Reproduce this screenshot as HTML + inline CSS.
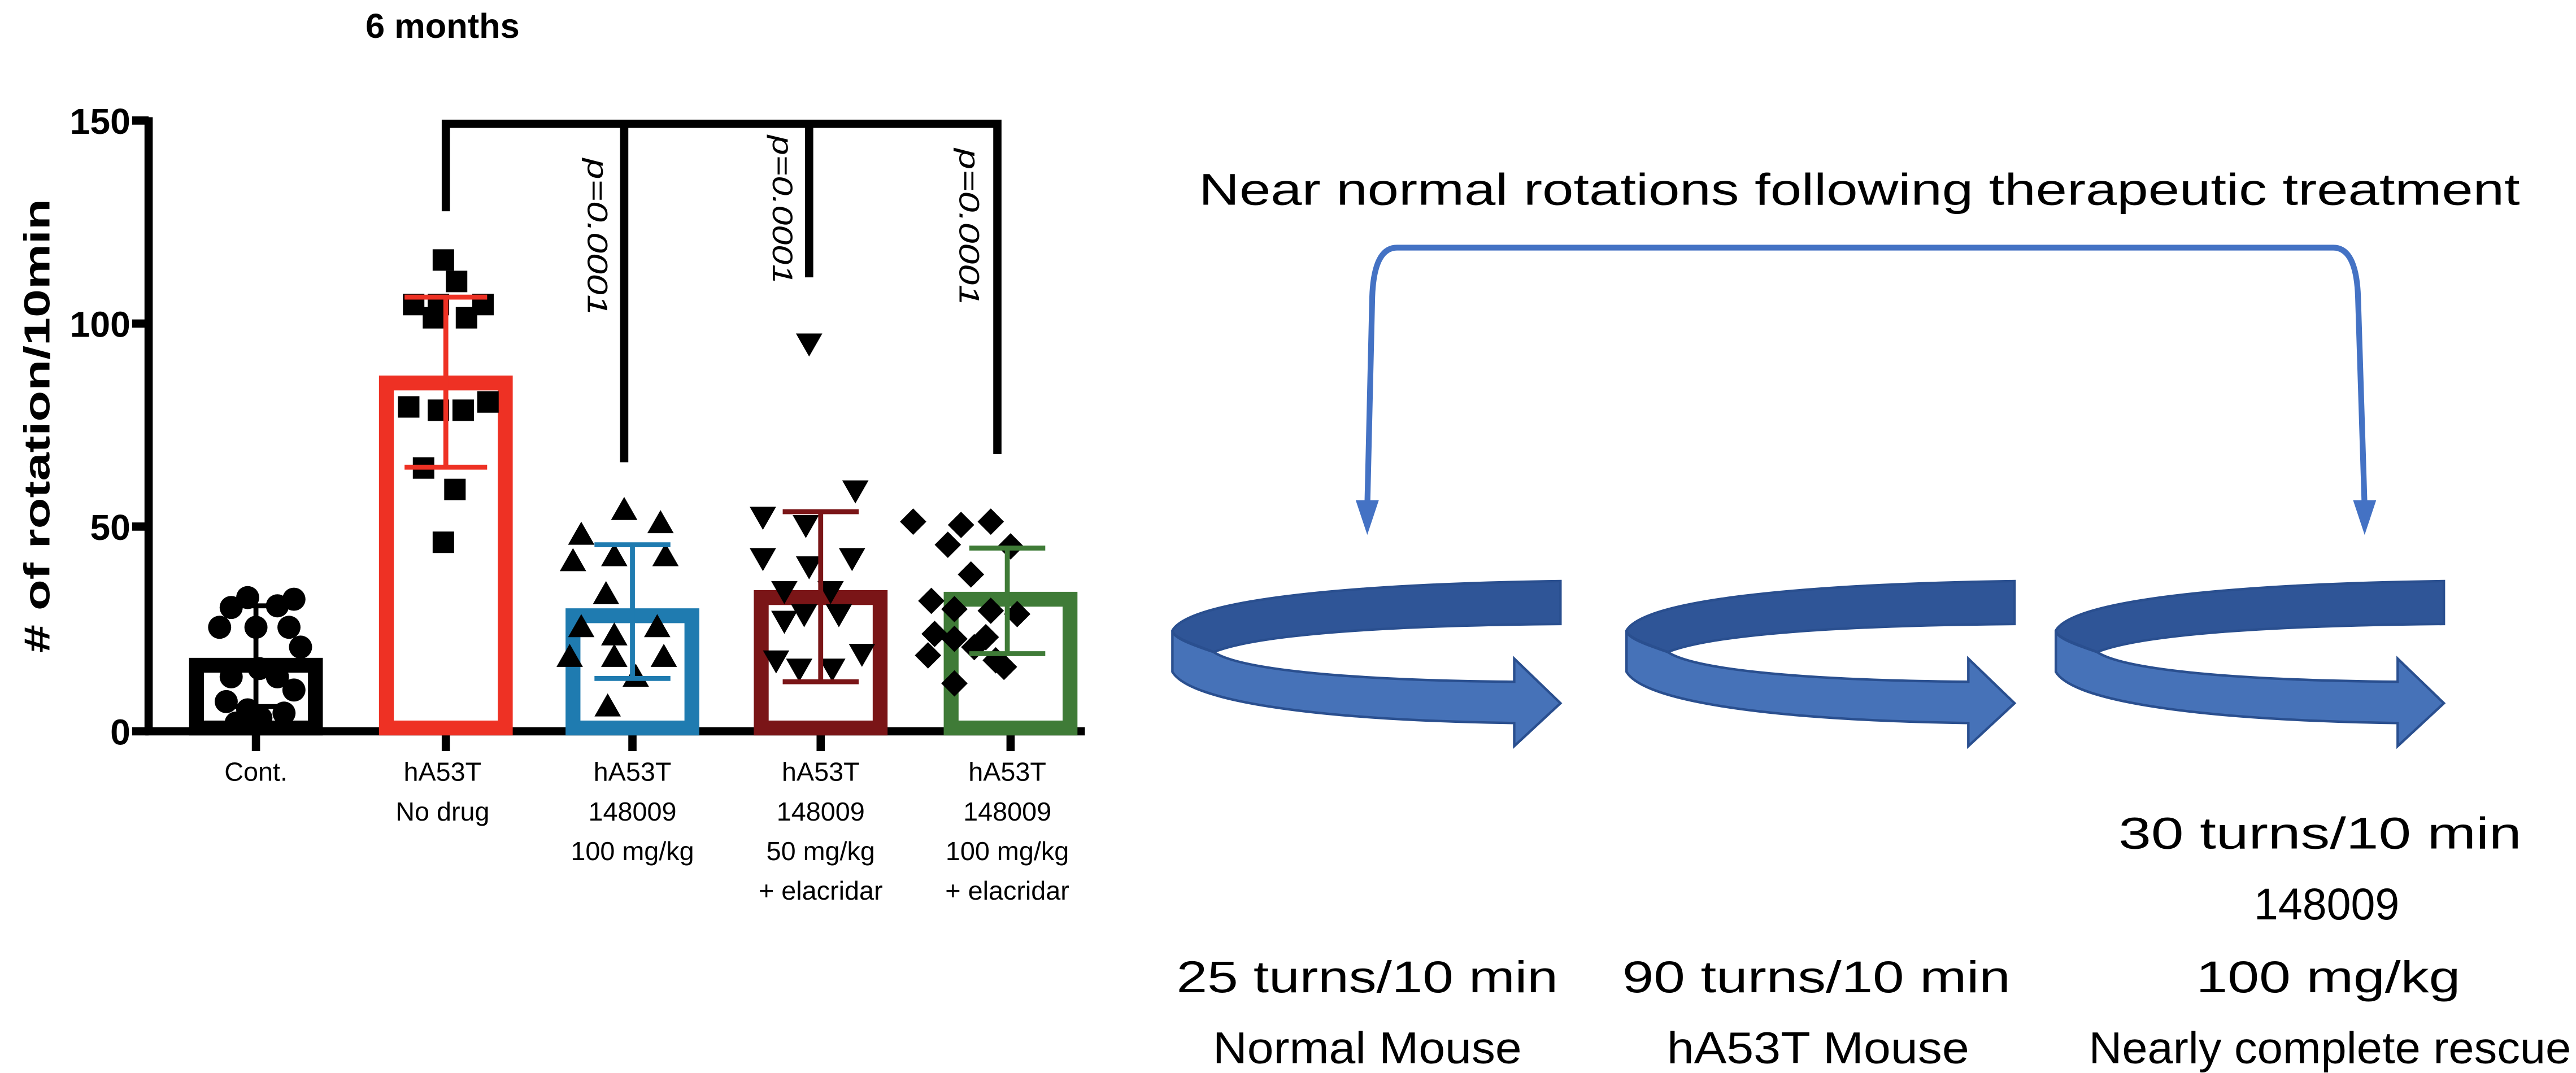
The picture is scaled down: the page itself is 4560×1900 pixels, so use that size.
<!DOCTYPE html>
<html><head><meta charset="utf-8"><style>
html,body{margin:0;padding:0;background:#fff;}
svg{display:block;}
text{font-family:"Liberation Sans",sans-serif;}
</style></head><body>
<svg width="4560" height="1900" viewBox="0 0 1560 650" xmlns="http://www.w3.org/2000/svg">
<rect width="1560" height="650" fill="#fff"/>
<!-- title -->
<text x="268" y="23" font-size="21" font-weight="bold" text-anchor="middle">6 months</text>
<!-- y label -->
<text transform="translate(30,258) rotate(-90)" font-size="22" font-weight="bold" text-anchor="middle" textLength="275" lengthAdjust="spacingAndGlyphs"># of rotation/10min</text>
<!-- tick labels -->
<g font-size="22" font-weight="bold" text-anchor="end">
<text x="79" y="81">150</text><text x="79" y="204">100</text><text x="79" y="327">50</text><text x="79" y="451">0</text>
</g>
<g stroke="#000" stroke-width="5">
<line x1="90" y1="71" x2="90" y2="445"/>
<line x1="80" y1="73" x2="90" y2="73"/><line x1="80" y1="196" x2="90" y2="196"/><line x1="80" y1="319" x2="90" y2="319"/><line x1="80" y1="443" x2="90" y2="443"/>
<line x1="88" y1="443" x2="657" y2="443"/>
<line x1="155" y1="443" x2="155" y2="455"/><line x1="270" y1="443" x2="270" y2="455"/><line x1="383" y1="443" x2="383" y2="455"/><line x1="497" y1="443" x2="497" y2="455"/><line x1="612" y1="443" x2="612" y2="455"/>
</g>
<!-- bars -->
<g fill="#fff" stroke-width="9">
<rect x="119" y="403" width="72" height="38" stroke="#000"/>
<rect x="234" y="232" width="72" height="209" stroke="#EE3124"/>
<rect x="347" y="373" width="72" height="68" stroke="#1F7BB0"/>
<rect x="461" y="362" width="72" height="79" stroke="#7A1517"/>
<rect x="576" y="363" width="72" height="78" stroke="#3F7B37"/>
</g>
<!-- cont circles -->
<g fill="#000">
<circle cx="140" cy="368" r="7"/><circle cx="150" cy="362" r="7"/><circle cx="168" cy="367" r="7"/><circle cx="178" cy="363" r="7"/><circle cx="133" cy="380" r="7"/><circle cx="155" cy="380" r="7"/><circle cx="175" cy="380" r="7"/><circle cx="182" cy="392" r="7"/><circle cx="140" cy="410" r="7"/><circle cx="157" cy="405" r="7"/><circle cx="168" cy="410" r="7"/><circle cx="178" cy="418" r="7"/><circle cx="137" cy="425" r="7"/><circle cx="150" cy="430" r="7"/><circle cx="158" cy="435" r="7"/><circle cx="143" cy="438" r="7"/><circle cx="172" cy="432" r="7"/>
</g>
<!-- red squares -->
<g fill="#000">
<rect x="262" y="151" width="13" height="13"/><rect x="270" y="164" width="13" height="13"/><rect x="244" y="178" width="13" height="13"/><rect x="259" y="178" width="13" height="13"/><rect x="286" y="178" width="13" height="13"/><rect x="256" y="186" width="13" height="13"/><rect x="276" y="186" width="13" height="13"/><rect x="241" y="240" width="13" height="13"/><rect x="259" y="242" width="13" height="13"/><rect x="274" y="242" width="13" height="13"/><rect x="289" y="237" width="13" height="13"/><rect x="250" y="277" width="13" height="13"/><rect x="269" y="290" width="13" height="13"/><rect x="262" y="322" width="13" height="13"/>
</g>
<!-- blue triangles -->
<g fill="#000">
<polygon points="378,301 370,315 386,315"/><polygon points="400,309 392,323 408,323"/><polygon points="352,316 344,330 360,330"/><polygon points="347,332 339,346 355,346"/><polygon points="372,329 364,343 380,343"/><polygon points="403,329 395,343 411,343"/><polygon points="367,352 359,366 375,366"/><polygon points="352,372 344,386 360,386"/><polygon points="372,377 364,391 380,391"/><polygon points="398,372 390,386 406,386"/><polygon points="345,390 337,404 353,404"/><polygon points="372,390 364,404 380,404"/><polygon points="402,390 394,404 410,404"/><polygon points="385,402 377,416 393,416"/><polygon points="368,420 360,434 376,434"/>
</g>
<!-- maroon down triangles -->
<g fill="#000">
<polygon points="482,202 498,202 490,216"/><polygon points="510,291 526,291 518,305"/><polygon points="454,307 470,307 462,321"/><polygon points="480,312 496,312 488,326"/><polygon points="454,332 470,332 462,346"/><polygon points="482,337 498,337 490,351"/><polygon points="508,332 524,332 516,346"/><polygon points="467,352 483,352 475,366"/><polygon points="495,352 511,352 503,366"/><polygon points="479,366 495,366 487,380"/><polygon points="500,366 516,366 508,380"/><polygon points="462,394 478,394 470,408"/><polygon points="476,399 492,399 484,413"/><polygon points="496,399 512,399 504,413"/><polygon points="514,390 530,390 522,404"/><polygon points="467,370 483,370 475,384"/>
</g>
<!-- green diamonds -->
<g fill="#000">
<polygon points="553,308 561,316 553,324 545,316"/><polygon points="582,310 590,318 582,326 574,318"/><polygon points="600,308 608,316 600,324 592,316"/><polygon points="574,322 582,330 574,338 566,330"/><polygon points="612,323 620,331 612,339 604,331"/><polygon points="588,340 596,348 588,356 580,348"/><polygon points="564,356 572,364 564,372 556,364"/><polygon points="578,361 586,369 578,377 570,369"/><polygon points="600,362 608,370 600,378 592,370"/><polygon points="616,364 624,372 616,380 608,372"/><polygon points="566,376 574,384 566,392 558,384"/><polygon points="597,378 605,386 597,394 589,386"/><polygon points="578,379 586,387 578,395 570,387"/><polygon points="562,389 570,397 562,405 554,397"/><polygon points="603,392 611,400 603,408 595,400"/><polygon points="578,406 586,414 578,422 570,414"/><polygon points="590,384 598,392 590,400 582,392"/><polygon points="608,396 616,404 608,412 600,404"/>
</g>
<!-- error bars -->
<g stroke-width="3" fill="none">
<path d="M155,367 V428 M142,367 H168 M142,428 H168" stroke="#000"/>
<path d="M270,180 V283 M245,180 H295 M245,283 H295" stroke="#EE3124"/>
<path d="M383,330 V411 M360,330 H406 M360,411 H406" stroke="#1F7BB0"/>
<path d="M497,310 V413 M474,310 H520 M474,413 H520" stroke="#7A1517"/>
<path d="M610,332 V396 M587,332 H633 M587,396 H633" stroke="#3F7B37"/>
</g>
<!-- significance -->
<g stroke="#000" stroke-width="5" fill="none">
<path d="M270,128 V75 H604 V275"/>
<line x1="378" y1="75" x2="378" y2="280"/>
<line x1="490" y1="75" x2="490" y2="168"/>
</g>
<g font-size="17" font-style="italic">
<text transform="translate(356,96) rotate(90)" textLength="95" lengthAdjust="spacingAndGlyphs">p=0.0001</text>
<text transform="translate(468,82) rotate(90)" textLength="90" lengthAdjust="spacingAndGlyphs">p=0.0001</text>
<text transform="translate(581,90) rotate(90)" textLength="95" lengthAdjust="spacingAndGlyphs">p=0.0001</text>
</g>
<!-- x labels -->
<g font-size="16" text-anchor="middle">
<text x="155" y="473">Cont.</text>
<text x="268" y="473">hA53T</text><text x="268" y="497">No drug</text>
<text x="383" y="473">hA53T</text><text x="383" y="497">148009</text><text x="383" y="521">100 mg/kg</text>
<text x="497" y="473">hA53T</text><text x="497" y="497">148009</text><text x="497" y="521">50 mg/kg</text><text x="497" y="545">+ elacridar</text>
<text x="610" y="473">hA53T</text><text x="610" y="497">148009</text><text x="610" y="521">100 mg/kg</text><text x="610" y="545">+ elacridar</text>
</g>
<!-- right side -->
<text x="1126" y="124" font-size="27" text-anchor="middle" textLength="800" lengthAdjust="spacingAndGlyphs">Near normal rotations following therapeutic treatment</text>
<path d="M828,308 L831,180 Q832,150 846,150 L1413,150 Q1427,150 1428,180 L1432,308" stroke="#4472C4" stroke-width="3.5" fill="none"/>
<polygon points="828,324 821,303 835,303" fill="#4472C4"/>
<polygon points="1432,324 1425,303 1439,303" fill="#4472C4"/>
<defs>
<g id="arr">
<path d="M0,30 C10,12 100,2 235,0 L235,26 C120,27 50,33 25,43 C12,38 0,34 0,30 Z" fill="#2F5597" stroke="#2A4F8F" stroke-width="1.5"/>
<path d="M0,30 L0,55 C10,72 80,84 207,86 L207,100 L235,74 L207,47 L207,61 C100,60 40,53 25,43 C10,38 0,34 0,30 Z" fill="#4672B8" stroke="#2A4F8F" stroke-width="1.5"/>
</g>
</defs>
<use href="#arr" x="710" y="352"/>
<use href="#arr" x="985" y="352"/>
<use href="#arr" x="1245" y="352"/>
<g font-size="27" text-anchor="middle">
<text x="828" y="601" textLength="231" lengthAdjust="spacingAndGlyphs">25 turns/10 min</text>
<text x="828" y="644" textLength="187" lengthAdjust="spacingAndGlyphs">Normal Mouse</text>
<text x="1100" y="601" textLength="235" lengthAdjust="spacingAndGlyphs">90 turns/10 min</text>
<text x="1101" y="644" textLength="183" lengthAdjust="spacingAndGlyphs">hA53T Mouse</text>
<text x="1405" y="514" textLength="244" lengthAdjust="spacingAndGlyphs">30 turns/10 min</text>
<text x="1409" y="557" textLength="88" lengthAdjust="spacingAndGlyphs">148009</text>
<text x="1410" y="601" textLength="160" lengthAdjust="spacingAndGlyphs">100 mg/kg</text>
<text x="1411" y="644" textLength="292" lengthAdjust="spacingAndGlyphs">Nearly complete rescue</text>
</g>
</svg>
</body></html>
